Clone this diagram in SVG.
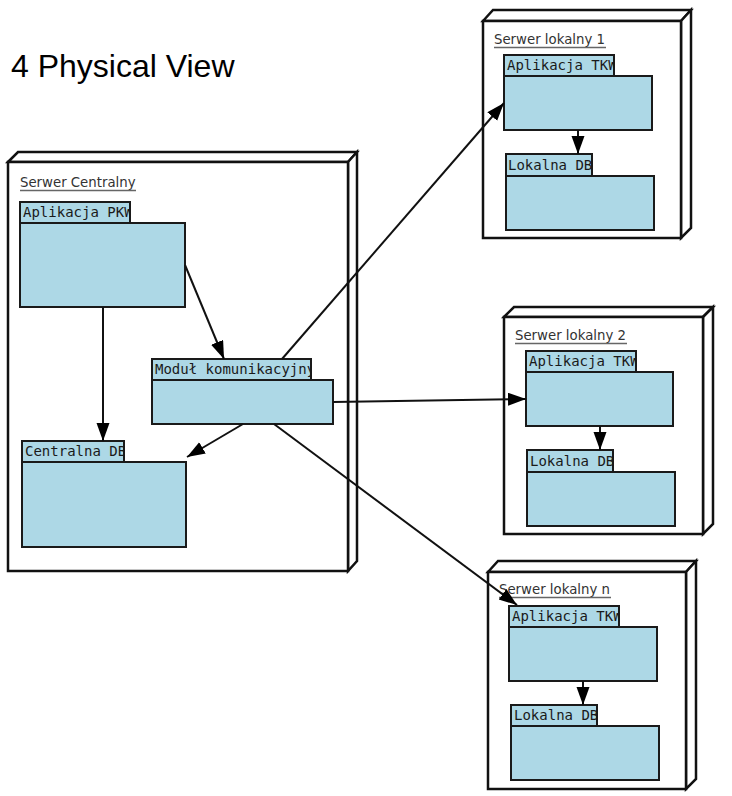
<svg xmlns="http://www.w3.org/2000/svg" width="732" height="796" viewBox="0 0 732 796">
<style>
.bg{fill:#fff}
.node{fill:#fff;stroke:#111;stroke-width:2.5;stroke-linejoin:miter}
.box{fill:#add8e6;stroke:#1a1a1a;stroke-width:2}
.nl{font-family:"DejaVu Sans",sans-serif;font-size:13.3px;fill:#333}
.ul{stroke:#666;stroke-width:1.5}
.mono{font-family:"DejaVu Sans Mono",monospace;font-size:14px;fill:#1a1a1a}
.title{font-family:"Liberation Sans",Arial,sans-serif;font-size:32px;fill:#000}
.conn{stroke:#111;stroke-width:2;fill:none;marker-end:url(#ah)}
</style>
<defs>
<marker id="ah" markerUnits="userSpaceOnUse" markerWidth="20" markerHeight="14" refX="18" refY="6.5" orient="auto">
<path d="M0,0 L18,6.5 L0,13 z" fill="#000"/>
</marker>
<clipPath id="c1"><rect x="20" y="202" width="110" height="21"/></clipPath>
<clipPath id="c2"><rect x="152" y="359" width="159" height="21"/></clipPath>
<clipPath id="c3"><rect x="22" y="441" width="102" height="21"/></clipPath>
<clipPath id="c4"><rect x="504" y="55" width="110" height="21"/></clipPath>
<clipPath id="c5"><rect x="506" y="154" width="86" height="22"/></clipPath>
<clipPath id="c6"><rect x="526" y="351" width="110" height="21"/></clipPath>
<clipPath id="c7"><rect x="527" y="450" width="86" height="22"/></clipPath>
<clipPath id="c8"><rect x="509" y="606" width="110" height="21"/></clipPath>
<clipPath id="c9"><rect x="511" y="705" width="86" height="21"/></clipPath>
</defs>
<rect class="bg" x="0" y="0" width="732" height="796"/>
<text class="title" x="11" y="77">4 Physical View</text>

<g id="serwer-centralny">
<polygon class="node" points="8,162 18,152 357,152 348,162"/>
<polygon class="node" points="348,162 357,152 357,561 348,571"/>
<rect class="node" x="8" y="162" width="340" height="409"/>
<text class="nl" x="20" y="187">Serwer Centralny</text>
<line class="ul" x1="20" y1="190.5" x2="136" y2="190.5"/>
</g>

<g id="aplikacja-pkw">
<rect class="box" x="20" y="202" width="110" height="21"/>
<rect class="box" x="20" y="223" width="165" height="84"/>
<text class="mono" x="23" y="217" clip-path="url(#c1)">Aplikacja PKW</text>
</g>

<g id="modul-komunikacyjny">
<rect class="box" x="152" y="359" width="159" height="21"/>
<rect class="box" x="152" y="380" width="181" height="44"/>
<text class="mono" x="155" y="374" clip-path="url(#c2)">Moduł komunikacyjny</text>
</g>

<g id="centralna-db">
<rect class="box" x="22" y="441" width="102" height="21"/>
<rect class="box" x="22" y="462" width="164" height="85"/>
<text class="mono" x="25" y="456" clip-path="url(#c3)">Centralna DB</text>
</g>

<g id="serwer-lokalny-1">
<polygon class="node" points="483,21 493,10 691,10 681,21"/>
<polygon class="node" points="681,21 691,10 691,228 681,238"/>
<rect class="node" x="483" y="21" width="198" height="217"/>
<text class="nl" x="494" y="44">Serwer lokalny 1</text>
<line class="ul" x1="494" y1="47.5" x2="606" y2="47.5"/>
</g>
<g id="aplikacja-tkw-1">
<rect class="box" x="504" y="55" width="110" height="21"/>
<rect class="box" x="504" y="76" width="148" height="54"/>
<text class="mono" x="507" y="70" clip-path="url(#c4)">Aplikacja TKW</text>
</g>
<g id="lokalna-db-1">
<rect class="box" x="506" y="154" width="86" height="22"/>
<rect class="box" x="506" y="176" width="148" height="54"/>
<text class="mono" x="508" y="170" clip-path="url(#c5)">Lokalna DB</text>
</g>

<g id="serwer-lokalny-2">
<polygon class="node" points="504,317 514,307 713,307 703,317"/>
<polygon class="node" points="703,317 713,307 713,524 703,534"/>
<rect class="node" x="504" y="317" width="199" height="217"/>
<text class="nl" x="515" y="340">Serwer lokalny 2</text>
<line class="ul" x1="515" y1="343.5" x2="627" y2="343.5"/>
</g>
<g id="aplikacja-tkw-2">
<rect class="box" x="526" y="351" width="110" height="21"/>
<rect class="box" x="526" y="372" width="147" height="54"/>
<text class="mono" x="529" y="366" clip-path="url(#c6)">Aplikacja TKW</text>
</g>
<g id="lokalna-db-2">
<rect class="box" x="527" y="450" width="86" height="22"/>
<rect class="box" x="527" y="472" width="148" height="54"/>
<text class="mono" x="530" y="466" clip-path="url(#c7)">Lokalna DB</text>
</g>

<g id="serwer-lokalny-n">
<polygon class="node" points="488,572 498,561 696,561 686,572"/>
<polygon class="node" points="686,572 696,561 696,779 686,789"/>
<rect class="node" x="488" y="572" width="198" height="217"/>
<text class="nl" x="499" y="594">Serwer lokalny n</text>
<line class="ul" x1="499" y1="597.5" x2="611" y2="597.5"/>
</g>
<g id="aplikacja-tkw-n">
<rect class="box" x="509" y="606" width="110" height="21"/>
<rect class="box" x="509" y="627" width="148" height="54"/>
<text class="mono" x="512" y="621" clip-path="url(#c8)">Aplikacja TKW</text>
</g>
<g id="lokalna-db-n">
<rect class="box" x="511" y="705" width="86" height="21"/>
<rect class="box" x="511" y="726" width="148" height="54"/>
<text class="mono" x="514" y="720" clip-path="url(#c9)">Lokalna DB</text>
</g>

<g id="connectors">
<line class="conn" x1="103" y1="307" x2="103" y2="441"/>
<line class="conn" x1="185" y1="265" x2="224" y2="359"/>
<line class="conn" x1="243" y1="424" x2="187" y2="457"/>
<line class="conn" x1="282" y1="359" x2="504" y2="103"/>
<line class="conn" x1="333" y1="402" x2="526" y2="399"/>
<line class="conn" x1="274" y1="424" x2="517" y2="605"/>
<line class="conn" x1="578" y1="130" x2="578" y2="154"/>
<line class="conn" x1="600" y1="426" x2="600" y2="450"/>
<line class="conn" x1="583" y1="681" x2="583" y2="705"/>
</g>
</svg>
